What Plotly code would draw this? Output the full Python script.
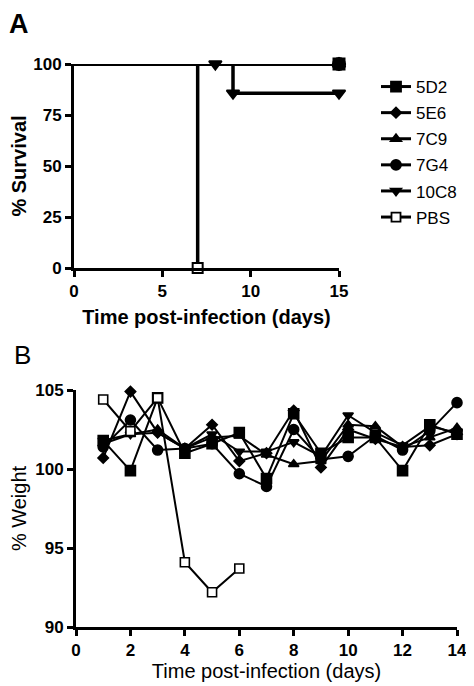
import plotly.graph_objects as go

# The page body has an 8px margin, so the figure is drawn 8px smaller and
# reference pixel positions are shifted by that offset.
OFF = 8
W, H = 474 - OFF, 686 - OFF

# ---------------- Panel A data (survival) ----------------
groups = ["5D2", "5E6", "7C9", "7G4", "10C8", "PBS"]
symbols = ["square", "diamond", "triangle-up", "circle", "triangle-down", "square"]
fills = ["black", "black", "black", "black", "black", "white"]

surv_x = {
    "5D2": [0, 15], "5E6": [0, 15], "7C9": [0, 15], "7G4": [0, 15],
    "10C8": [0, 9, 15], "PBS": [0, 7],
}
surv_y = {
    "5D2": [100, 100], "5E6": [100, 100], "7C9": [100, 100], "7G4": [100, 100],
    "10C8": [100, 85.7, 85.7], "PBS": [100, 0],
}
mark_x = {
    "5D2": [15], "5E6": [15], "7C9": [15], "7G4": [15],
    "10C8": [8, 9, 15], "PBS": [7],
}
mark_y = {
    "5D2": [100], "5E6": [100], "7C9": [100], "7G4": [100],
    "10C8": [100, 85.7, 85.7], "PBS": [0],
}

# ---------------- Panel B data (weight) ----------------
days = [1, 2, 3, 4, 5, 6, 7, 8, 9, 10, 11, 12, 13, 14]
w_5D2 = [101.8, 99.9, 104.5, 101.0, 101.6, 102.3, 99.4, 103.5, 101.0, 102.0, 102.0, 99.9, 102.8, 102.2]
w_5E6 = [100.7, 104.9, 102.3, 101.3, 102.8, 100.5, 101.0, 103.7, 100.1, 102.5, 101.9, 101.4, 101.5, 102.2]
w_7C9 = [101.6, 102.2, 102.5, 101.3, 102.0, 102.1, 100.9, 100.3, 100.5, 102.8, 102.7, 101.4, 102.0, 102.6]
w_7G4 = [101.4, 103.1, 101.2, 101.3, 101.6, 99.7, 98.9, 102.5, 100.6, 100.8, 102.1, 101.2, 102.4, 104.2]
w_10C8 = [101.8, 102.2, 102.3, 101.3, 102.2, 101.1, 101.1, 101.7, 100.8, 103.4, 102.3, 101.5, 102.7, 102.3]
pbs_days = [1, 2, 3, 4, 5, 6]
w_PBS = [104.4, 102.4, 104.5, 94.1, 92.2, 93.7]

weights = {
    "5D2": (days, w_5D2), "5E6": (days, w_5E6), "7C9": (days, w_7C9),
    "7G4": (days, w_7G4), "10C8": (days, w_10C8), "PBS": (pbs_days, w_PBS),
}

FONT = "Liberation Sans, Arial, sans-serif"
fig = go.Figure()

a_sizes = {"5D2": 11, "5E6": 9, "7C9": 11, "7G4": 12, "10C8": 11, "PBS": 10}
b_sizes = {"5D2": 10, "5E6": 8, "7C9": 9, "7G4": 10, "10C8": 9, "PBS": 9}

# Panel A step lines
for g in groups:
    fig.add_trace(go.Scatter(
        x=surv_x[g], y=surv_y[g], mode="lines", line=dict(color="black", width=3.5, shape="hv"),
        xaxis="x", yaxis="y", showlegend=False, cliponaxis=False, hoverinfo="skip"))
# Panel A markers
for g, s, f in zip(groups, symbols, fills):
    fig.add_trace(go.Scatter(
        x=mark_x[g], y=mark_y[g], mode="markers",
        marker=dict(symbol=s, size=a_sizes[g], color=f, line=dict(color="black", width=2)),
        xaxis="x", yaxis="y", showlegend=False, cliponaxis=False))

# Legend-only entries
for g, s, f in zip(groups, symbols, fills):
    fig.add_trace(go.Scatter(
        x=[None], y=[None], mode="lines+markers", name=g, legendgroup=g,
        line=dict(color="black", width=3),
        marker=dict(symbol=s, size=b_sizes[g], color=f, line=dict(color="black", width=1.8)),
        xaxis="x", yaxis="y"))

# Panel B weight curves
for g, s, f in zip(groups, symbols, fills):
    xs, ys = weights[g]
    fig.add_trace(go.Scatter(
        x=xs, y=ys, mode="lines+markers",
        line=dict(color="black", width=2),
        marker=dict(symbol=s, size=b_sizes[g], color=f, line=dict(color="black", width=1.6)),
        xaxis="x2", yaxis="y2", showlegend=False, cliponaxis=False))


def px_x(p):
    return (p - OFF) / W


def px_y(p):
    return 1 - (p - OFF) / H


tickfont = dict(family=FONT, size=17, color="black", weight="bold")
common = dict(showgrid=False, zeroline=False, showline=True, linecolor="black", linewidth=3,
              ticks="outside", ticklen=6, tickcolor="black", tickfont=tickfont, automargin=False)

fig.update_layout(
    width=W, height=H, margin=dict(l=0, r=0, t=0, b=0),
    paper_bgcolor="white", plot_bgcolor="white",
    font=dict(family=FONT, color="black"),
    xaxis=dict(domain=[px_x(74), px_x(339)], range=[0, 15], tickvals=[0, 5, 10, 15],
               tickwidth=3, anchor="y",
               title=dict(text="Time post-infection (days)",
                          font=dict(family=FONT, size=20, weight="bold"), standoff=10),
               **common),
    yaxis=dict(domain=[px_y(268), px_y(64)], range=[0, 100], tickvals=[0, 25, 50, 75, 100],
               tickwidth=3, anchor="x",
               title=dict(text="% Survival",
                          font=dict(family=FONT, size=20, weight="bold"), standoff=6),
               **common),
    xaxis2=dict(domain=[px_x(76), px_x(457)], range=[0, 14], tickvals=list(range(0, 15, 2)),
                tickwidth=2.5, anchor="y2",
                title=dict(text="Time post-infection (days)",
                           font=dict(family=FONT, size=20), standoff=5),
                **common),
    yaxis2=dict(domain=[px_y(627), px_y(390)], range=[90, 105], tickvals=[90, 95, 100, 105],
                tickwidth=2.5, anchor="x2",
                title=dict(text="% Weight", font=dict(family=FONT, size=20), standoff=4),
                **common),
    legend=dict(x=px_x(376), y=px_y(69), xanchor="left", yanchor="top",
                font=dict(family=FONT, size=17, color="black"),
                bgcolor="rgba(0,0,0,0)", tracegroupgap=1, traceorder="grouped"),
    annotations=[
        dict(text="<b>A</b>", x=0, y=1, xref="paper", yref="paper",
             xanchor="left", yanchor="top", showarrow=False, borderpad=0,
             font=dict(family=FONT, size=27, color="black")),
        dict(text="B", x=px_x(12), y=px_y(355), xref="paper", yref="paper",
             xanchor="left", yanchor="middle", showarrow=False,
             font=dict(family=FONT, size=26, color="black")),
    ],
)

fig.write_html("out.html")
